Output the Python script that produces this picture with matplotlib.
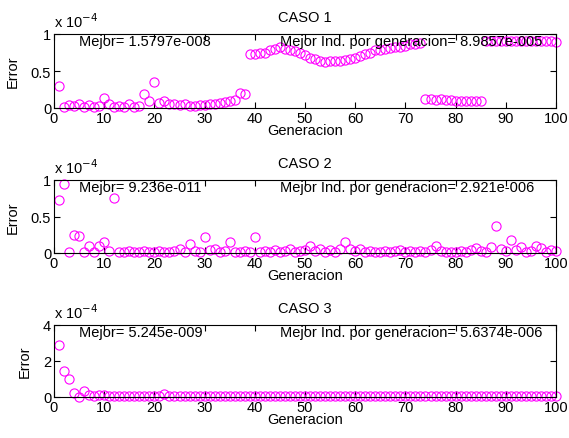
import numpy as np
import matplotlib
matplotlib.use("Agg")
import matplotlib.pyplot as plt

plt.rcParams['font.family'] = ['Liberation Sans', 'DejaVu Sans']

# Error per generation, in units of 1e-4
generations = list(range(1, 101))

error_caso1 = [
    0.30, 0.02, 0.04, 0.03, 0.05, 0.02, 0.04, 0.02, 0.03, 0.14,
    0.06, 0.02, 0.03, 0.02, 0.05, 0.02, 0.03, 0.19, 0.10, 0.35,
    0.07, 0.10, 0.06, 0.05, 0.04, 0.05, 0.03, 0.03, 0.04, 0.04,
    0.05, 0.06, 0.07, 0.08, 0.09, 0.11, 0.20, 0.19, 0.73, 0.73,
    0.74, 0.75, 0.78, 0.80, 0.82, 0.80, 0.78, 0.77, 0.74, 0.72,
    0.68, 0.66, 0.64, 0.62, 0.63, 0.63, 0.64, 0.65, 0.66, 0.68,
    0.70, 0.73, 0.75, 0.78, 0.79, 0.80, 0.81, 0.82, 0.83, 0.84,
    0.86, 0.87, 0.88, 0.12, 0.12, 0.11, 0.12, 0.11, 0.11, 0.10,
    0.10, 0.10, 0.10, 0.10, 0.10, 0.90, 0.90, 0.90, 0.90, 0.90,
    0.90, 0.90, 0.90, 0.90, 0.90, 0.90, 0.90, 0.90, 0.90, 0.89857,
]

error_caso2 = [
    0.73, 0.95, 0.01, 0.25, 0.23, 0.01, 0.09, 0.01, 0.10, 0.15,
    0.03, 0.75, 0.02, 0.01, 0.03, 0.02, 0.01, 0.03, 0.02, 0.01,
    0.03, 0.02, 0.01, 0.03, 0.05, 0.02, 0.12, 0.03, 0.01, 0.22,
    0.04, 0.05, 0.02, 0.03, 0.15, 0.02, 0.01, 0.03, 0.02, 0.22,
    0.01, 0.03, 0.02, 0.04, 0.02, 0.03, 0.05, 0.02, 0.03, 0.04,
    0.09, 0.03, 0.05, 0.02, 0.04, 0.02, 0.05, 0.15, 0.06, 0.03,
    0.05, 0.02, 0.03, 0.02, 0.01, 0.03, 0.02, 0.03, 0.04, 0.02,
    0.03, 0.01, 0.03, 0.02, 0.04, 0.09, 0.03, 0.02, 0.01, 0.02,
    0.03, 0.02, 0.04, 0.07, 0.03, 0.02, 0.08, 0.37, 0.06, 0.03,
    0.18, 0.04, 0.08, 0.02, 0.03, 0.09, 0.07, 0.02, 0.04, 0.02921,
]

error_caso3 = [
    2.90, 1.43, 1.00, 0.22, 0.02, 0.35, 0.10, 0.06, 0.10, 0.12,
    0.06, 0.05, 0.07, 0.05, 0.06, 0.05, 0.06, 0.05, 0.07, 0.05,
    0.06, 0.15, 0.06, 0.05, 0.06, 0.05, 0.06, 0.05, 0.06, 0.05,
    0.06, 0.05, 0.06, 0.05, 0.06, 0.05, 0.06, 0.05, 0.06, 0.05,
    0.06, 0.05, 0.06, 0.05, 0.06, 0.05, 0.06, 0.05, 0.06, 0.05,
    0.06, 0.05, 0.06, 0.05, 0.06, 0.05, 0.06, 0.05, 0.06, 0.05,
    0.06, 0.05, 0.06, 0.05, 0.06, 0.05, 0.06, 0.05, 0.06, 0.05,
    0.06, 0.05, 0.06, 0.05, 0.06, 0.05, 0.06, 0.05, 0.06, 0.05,
    0.06, 0.05, 0.06, 0.05, 0.06, 0.05, 0.06, 0.05, 0.06, 0.05,
    0.06, 0.05, 0.06, 0.05, 0.06, 0.05, 0.06, 0.05, 0.06, 0.056374,
]

titles = ["CASO 1", "CASO 2", "CASO 3"]
best_overall = ["Mejor= 1.5797e-008", "Mejor= 9.236e-011", "Mejor= 5.245e-009"]
best_last = ["Mejor Ind. por generacion= 8.9857e-005",
             "Mejor Ind. por generacion= 2.921e-006",
             "Mejor Ind. por generacion= 5.6374e-006"]
y_ticks = [[0, 0.5, 1], [0, 0.5, 1], [0, 2, 4]]
y_ticklabels = [["0", "0.5", "1"], ["0", "0.5", "1"], ["0", "2", "4"]]
x_ticks = list(range(0, 101, 10))

series = [error_caso1, error_caso2, error_caso3]

W, H = 569, 439
fig = plt.figure(figsize=(W / 100, H / 100), dpi=100)
fig.patch.set_facecolor('white')

# axes boxes in pixels: (left, top, right, bottom)
boxes = [(54, 35, 556, 109), (54, 181, 556, 254), (54, 326, 556, 398)]

fs = 10.5
for i, (l, t, r, b) in enumerate(boxes):
    ax = fig.add_axes([l / W, 1 - b / H, (r - l) / W, (b - t) / H])
    ax.plot(generations, series[i], linestyle='none', marker='o',
            markersize=6.6, markerfacecolor='none', markeredgecolor='#ff00ff',
            markeredgewidth=0.8, clip_on=False)
    ax.set_xlim(0, 100)
    ax.set_ylim(y_ticks[i][0], y_ticks[i][-1])
    ax.set_xticks(x_ticks)
    ax.set_yticks(y_ticks[i])
    ax.set_yticklabels(y_ticklabels[i])
    ax.tick_params(direction='in', top=True, right=True, length=4,
                   width=0.8, labelsize=fs, pad=2)
    for s in ax.spines.values():
        s.set_linewidth(0.8)
    ax.set_title(titles[i], fontsize=fs, pad=9)
    ax.set_xlabel("Generacion", fontsize=fs, labelpad=-1)
    ax.set_ylabel("Error", fontsize=fs, labelpad=8)
    ax.text(0, 1.06, r"x 10$^{-4}$", transform=ax.transAxes, fontsize=fs,
            ha='left', va='bottom')
    ax.text(5, 0.9 * y_ticks[i][-1], best_overall[i], fontsize=fs,
            ha='left', va='center')
    ax.text(45, 0.9 * y_ticks[i][-1], best_last[i], fontsize=fs,
            ha='left', va='center')

fig.savefig("out.png", dpi=100)
